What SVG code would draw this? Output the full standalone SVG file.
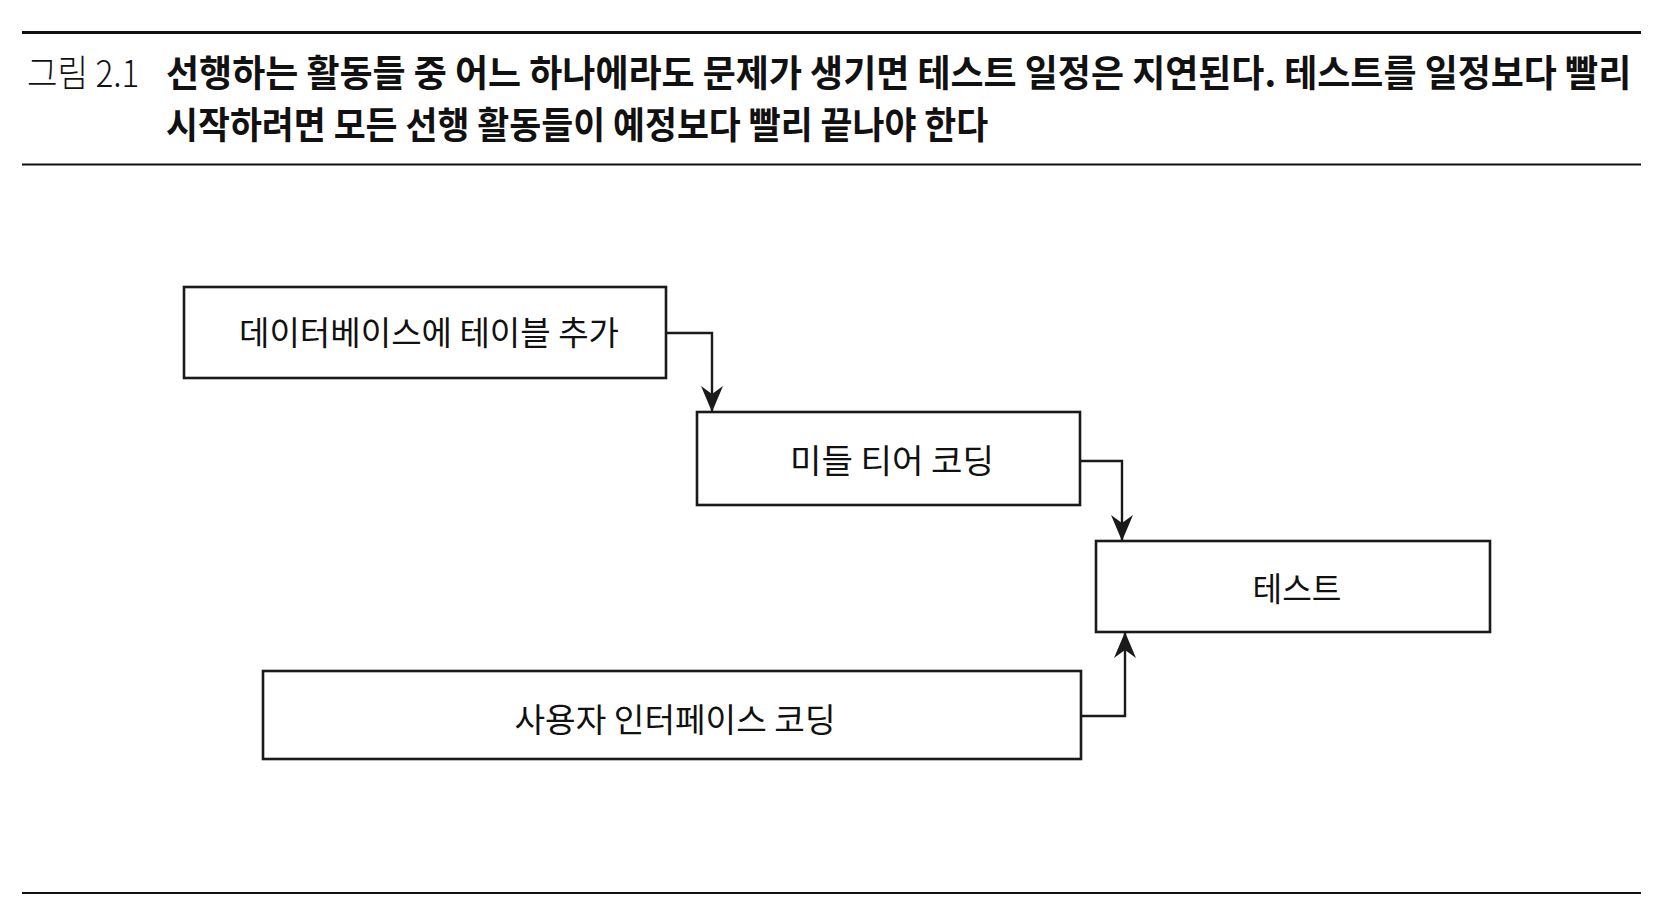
<svg xmlns="http://www.w3.org/2000/svg" width="1666" height="920" viewBox="0 0 1666 920">
<style>
.rule{stroke:#111;fill:none}
.cap{font-family:"Noto Sans CJK KR","Noto Sans",sans-serif;font-size:37px;fill:#111}
.b{font-weight:700}
.lt{font-weight:300}
.box{fill:#fff;stroke:#1a1a1a;stroke-width:2.6}
.lbl{font-family:"Noto Sans CJK KR","Noto Sans",sans-serif;font-size:33px;fill:#111;text-anchor:middle}
.con{fill:none;stroke:#1a1a1a;stroke-width:2.4}
</style>
<defs>
<marker id="arr" viewBox="0 0 26 24" refX="25" refY="12" markerWidth="26" markerHeight="24" orient="auto" markerUnits="userSpaceOnUse">
<path d="M0,1 L26,12 L0,23 L8,12 Z" fill="#1a1a1a"/>
</marker>
</defs>
<rect width="1666" height="920" fill="#fff"/>
<g id="header">
<line class="rule" x1="22" y1="32.5" x2="1641" y2="32.5" stroke-width="3"/>
<text class="cap lt" transform="translate(27,87) scale(0.85,1)" x="0" y="0" textLength="132" lengthAdjust="spacingAndGlyphs">그림 2.1</text>
<text class="cap b" transform="translate(166,87) scale(0.9,1)" x="0" y="0" textLength="1628" lengthAdjust="spacingAndGlyphs">선행하는 활동들 중 어느 하나에라도 문제가 생기면 테스트 일정은 지연된다. 테스트를 일정보다 빨리</text>
<text class="cap b" transform="translate(166,139) scale(0.87,1)" x="0" y="0" textLength="945" lengthAdjust="spacingAndGlyphs">시작하려면 모든 선행 활동들이 예정보다 빨리 끝나야 한다</text>
<line class="rule" x1="22" y1="164.5" x2="1641" y2="164.5" stroke-width="2" stroke="#444"/>
</g>
<g id="connectors">
<path class="con" d="M666,333 H712 V411" marker-end="url(#arr)"/>
<path class="con" d="M1080,461 H1122 V540" marker-end="url(#arr)"/>
<path class="con" d="M1081,716 H1125 V633" marker-end="url(#arr)"/>
</g>
<g id="node-db">
<rect class="box" x="184" y="287" width="482" height="91"/>
<text class="lbl" x="429" y="345" textLength="380" lengthAdjust="spacingAndGlyphs">데이터베이스에 테이블 추가</text>
</g>
<g id="node-middle">
<rect class="box" x="697" y="412" width="383" height="93"/>
<text class="lbl" x="892" y="473" textLength="204" lengthAdjust="spacingAndGlyphs">미들 티어 코딩</text>
</g>
<g id="node-test">
<rect class="box" x="1096" y="541" width="394" height="91"/>
<text class="lbl" x="1297" y="601" textLength="89" lengthAdjust="spacingAndGlyphs">테스트</text>
</g>
<g id="node-ui">
<rect class="box" x="263" y="671" width="818" height="88"/>
<text class="lbl" x="675" y="732" textLength="321" lengthAdjust="spacingAndGlyphs">사용자 인터페이스 코딩</text>
</g>
<g id="footer">
<line class="rule" x1="22" y1="893" x2="1641" y2="893" stroke-width="2" stroke="#444"/>
</g>
</svg>
